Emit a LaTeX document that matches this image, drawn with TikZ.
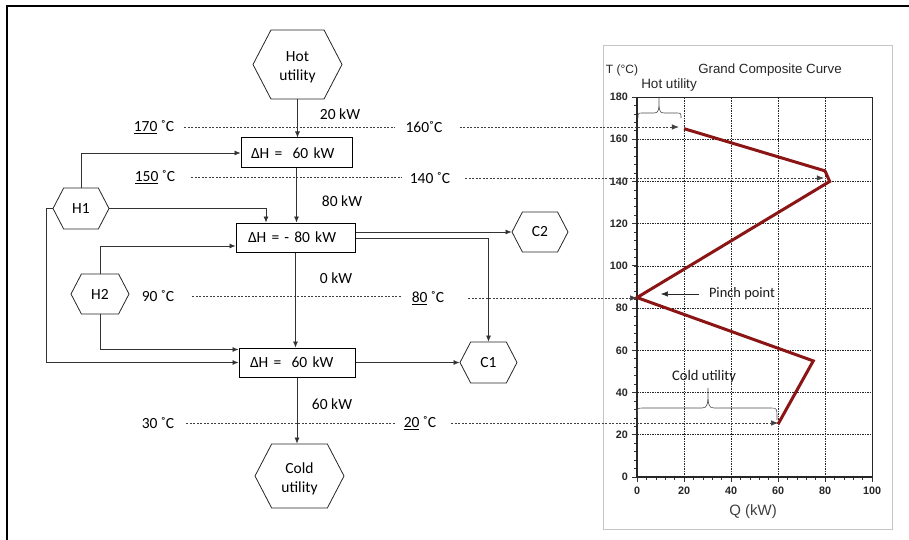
\documentclass[tikz,border=0pt]{standalone}
\usepackage{fontspec}
\setmainfont{Carlito}
\newfontfamily\arialf{Liberation Sans}
\usetikzlibrary{arrows.meta,shapes.symbols,calc}
\definecolor{gcc}{RGB}{139,21,21}
\begin{document}
\begin{tikzpicture}[x=1pt,y=-1pt,
  hexa/.style={draw=black!85, line width=0.8pt, signal, signal to=east and west,
    signal pointer angle=125, inner sep=0pt, align=center,
    font=\fontsize{15.5}{19}\selectfont},
  dhbox/.style={draw=black, line width=1pt, inner ysep=0pt, align=left,
    font=\fontsize{15.5}{19}\selectfont},
  lbl/.style={inner sep=0pt, font=\fontsize{15.5}{19}\selectfont},
  conn/.style={draw=black!80, line width=0.7pt, -{Latex[length=6pt,width=5pt]}},
  tline/.style={draw=black!75, line width=0.6pt, dash pattern=on 2pt off 1.5pt},
  tarrow/.style={tline, -{Latex[length=7pt,width=5.5pt]}},
  gridl/.style={draw=black!85, line width=0.75pt, dash pattern=on 1.5pt off 1pt},
  ticklbl/.style={inner sep=0pt, text=black!85, font=\arialf\bfseries\fontsize{10.8}{12}\selectfont},
  brc/.style={draw=black!70, line width=0.6pt},
]
\useasboundingbox (0,0) rectangle (909,540);
% outer frame (top and left visible)
\draw[line width=1.2pt] (7,540) -- (7,6) -- (909,6);

% ---------------- flow diagram ----------------
\node[hexa, minimum width=89pt, minimum height=69pt] (HU) at (297.5,64.5) {};
\node[lbl, align=center] (HUtxt) at (297.5,67.5) {Hot\\utility};
\node[hexa, minimum width=56pt, minimum height=41pt] (H1) at (81,208.5) {H1};
\node[hexa, minimum width=58pt, minimum height=40pt] (H2) at (100,294) {H2};
\node[hexa, minimum width=56pt, minimum height=40pt] (C2) at (540,232) {C2};
\node[hexa, minimum width=57pt, minimum height=41pt] (C1) at (488.5,362.5) {C1};
\node[hexa, minimum width=89pt, minimum height=64pt] (CU) at (299.5,476) {};
\node[lbl, align=center] (CUtxt) at (299.5,478.5) {Cold\\utility};

\node[dhbox, inner xsep=10pt, text width=91pt, minimum height=30pt] (B1) at (296.5,153) {ΔH =\ \ 60 kW};
\node[dhbox, inner xsep=12pt, text width=95pt, minimum height=29pt] (B2) at (295.5,237.5) {ΔH = - 80 kW};
\node[dhbox, inner xsep=11pt, text width=94pt, minimum height=29pt] (B3) at (297,362.5) {ΔH =\ \ 60 kW};

\draw[conn] (HU.south) -- (HU.south |- B1.north);
\draw[conn] (B1.south) -- (B1.south |- B2.north);
\draw[conn] (B2.south) -- (B2.south |- B3.north);
\draw[conn] (B3.south) -- (B3.south |- CU.north);

\draw[conn] (H1.north) |- (B1.west);
\draw[conn] (H1.east) -| ([xshift=-29.5pt]B2.north);
\draw[conn] (H1.west) -- ++(-6,0) |- (B3.west);
\draw[conn] (H2.north) |- ([yshift=-8.5pt]B2.west);
\draw[conn] (H2.south) |- ([yshift=13pt]B3.west);
\draw[conn] ([yshift=5.5pt]B2.east) -- (C2.west);
\draw[conn] ([yshift=-0.5pt]B2.east) -| (C1.north);
\draw[conn] (B3.east) -- (C1.west);

% power labels
\node[lbl] (q20) at (340,114) {20 kW};
\node[lbl] (q80) at (342,201) {80 kW};
\node[lbl] (q0)  at (336,278) {0 kW};
\node[lbl] (q60) at (332,404) {60 kW};

% temperature labels
\node[lbl] (t170) at (154,127) {\underline{170} ˚C};
\node[lbl] (t160) at (424,127) {160˚C};
\node[lbl] (t150) at (155,177) {\underline{150} ˚C};
\node[lbl] (t140) at (430,178) {140 ˚C};
\node[lbl] (t90)  at (158,296) {90 ˚C};
\node[lbl] (t80)  at (428,298) {\underline{80} ˚C};
\node[lbl] (t30)  at (158,423) {30 ˚C};
\node[lbl] (t20)  at (420,423) {\underline{20} ˚C};

\draw[tline] ([xshift=10pt]t170.east) -- ([xshift=-10pt]t160.west |- t170.east);
\draw[tline] ([xshift=16pt]t150.east) -- ([xshift=-8pt]t140.west |- t150.east);
\draw[tline] ([xshift=18pt]t90.east) -- ([xshift=-10pt]t80.west |- t90.east);
\draw[tline] ([xshift=12pt]t30.east) -- ([xshift=-8pt]t20.west |- t30.east);

% ---------------- chart ----------------
\draw[gray!45, line width=0.8pt] (603,45) rectangle (892,529);
\begin{scope}[shift={(637,477)}, x=2.35pt, y=2.1111pt]
  \foreach \q in {20,40,60,80} \draw[gridl] (\q,0) -- (\q,180);
  \foreach \t in {20,40,...,160} \draw[gridl] (0,\t) -- (100,\t);
  \draw[black!85, line width=0.8pt] (0,180) -- (100,180) -- (100,0);
  \foreach \t in {0,4,...,180} \draw[black!80, line width=0.6pt] (0,\t) -- ++(-3pt,0);
  \foreach \t in {0,20,...,180} \draw[black!80, line width=0.8pt] (0,\t) -- ++(-5pt,0);
  \foreach \q in {0,4,...,100} \draw[black!80, line width=0.6pt] (\q,0) -- ++(0,-3pt);
  \foreach \q in {0,20,...,100} \draw[black!80, line width=0.8pt] (\q,0) -- ++(0,-5pt);
  \draw[black!85, line width=1.3pt] (0,180) -- (0,0) -- (100,0);
  \foreach \t in {0,20,...,180} \node[ticklbl, anchor=east] at ([xshift=-9pt]0,\t) {\t};
  \foreach \q in {0,20,...,100} \node[ticklbl] at ([yshift=-14pt]\q,0) {\q};
  \draw[gcc, line width=3pt, line join=miter] (20,165) -- (80,145) -- (82,140) -- (0,85) -- (75,55) -- (60,25);
  \coordinate (p165) at (17.8,165);
  \coordinate (p140) at (79.5,140);
  \coordinate (p85) at (0,85);
  \coordinate (p25) at (60,25);
  \coordinate (pinchtip) at (10.2,86.5);
\end{scope}

\draw[tarrow] ([xshift=17pt]t160.east) -- (t160.east -| p165);
\draw[tarrow] ([xshift=15pt]t140.east) -- (t140.east -| p140);
\draw[tarrow] ([xshift=24pt]t80.east) -- (t80.east -| p85);
\draw[tarrow] ([xshift=15pt]t20.east) -- (t20.east -| p25);

% chart texts
\node[inner sep=0pt, font=\arialf\fontsize{12}{14}\selectfont, text=black!85] (Tax) at (622,70) {T (°C)};
\node[inner sep=0pt, font=\arialf\fontsize{13.3}{15}\selectfont, text=black!85] (ttl) at (770,70) {Grand Composite Curve};
\node[inner sep=0pt, font=\arialf\fontsize{15}{17}\selectfont, text=black!75] (Qax) at (753,512) {Q (kW)};
\node[inner sep=0pt, font=\arialf\fontsize{13.5}{15}\selectfont, text=black!85] (hul) at (669,85) {Hot utility};
\node[inner sep=0pt, font=\fontsize{14.4}{16}\selectfont, text=black!90] (pp) at (742,294) {Pinch point};
\node[inner sep=0pt, font=\fontsize{14.6}{16}\selectfont, text=black!90] (cul) at (704,377) {Cold utility};
\draw[-{Latex[length=7pt,width=5.5pt]}, black!85, line width=0.6pt] ([xshift=-10pt]pp.west) -- (pp.west -| pinchtip);

% braces
\draw[brc] (638,118) .. controls (638,113) .. (643,113) -- (654,113)
  .. controls (659,113) and (659,110) .. (659,97)
  .. controls (659,110) and (659,113) .. (664,113) -- (676,113)
  .. controls (681,113) .. (681,118);
\draw[brc] (637,417) .. controls (637,408) .. (643,408) -- (702,408)
  .. controls (708,408) and (708,404) .. (708,388)
  .. controls (708,404) and (708,408) .. (714,408) -- (771,408)
  .. controls (777,408) .. (777,420);
\end{tikzpicture}
\end{document}
